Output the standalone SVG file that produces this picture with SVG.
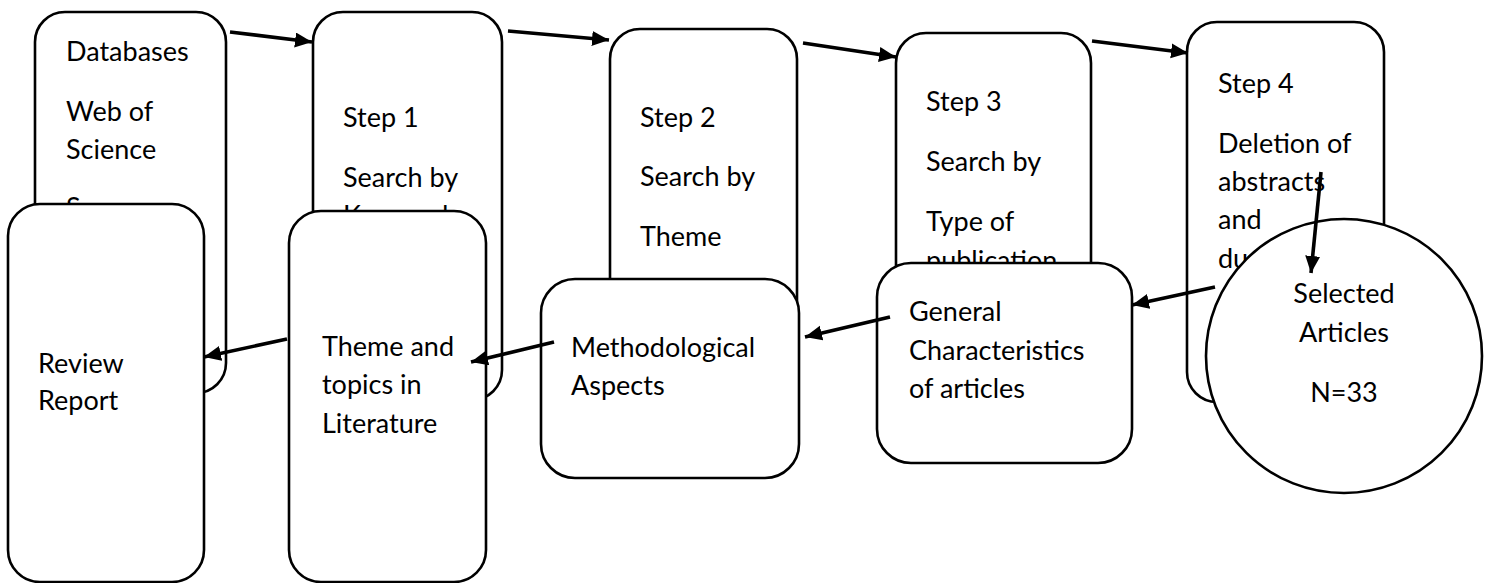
<svg xmlns="http://www.w3.org/2000/svg" width="1490" height="583" viewBox="0 0 1490 583">
<style>
.box{fill:#fff;stroke:#000;stroke-width:2.6}
.t{font-family:Lato,"Liberation Sans",sans-serif;font-size:27px;fill:#000}
.c{text-anchor:middle}
.arr{stroke:#000;stroke-width:3.6;fill:none;marker-end:url(#ah)}
</style>
<defs>
<marker id="ah" markerUnits="userSpaceOnUse" markerWidth="18" markerHeight="16" refX="17" refY="7.5" orient="auto">
<path d="M0,0 L17,7.5 L0,15 z" fill="#000"/>
</marker>
</defs>
<rect width="1490" height="583" fill="#fff"/>
<g id="databases">
<rect class="box" x="35" y="12" width="191" height="381" rx="30"/>
<text class="t" x="66" y="61">Databases</text>
<text class="t" x="66" y="121">Web of</text>
<text class="t" x="66" y="159">Science</text>
<text class="t" x="66" y="217">Scopus</text>
</g>
<g id="step1">
<rect class="box" x="313" y="12" width="189" height="388" rx="30"/>
<text class="t" x="343" y="127">Step 1</text>
<text class="t" x="343" y="187">Search by</text>
<text class="t" x="343" y="225">Keywords</text>
</g>
<g id="step2">
<rect class="box" x="610" y="29" width="187" height="380" rx="30"/>
<text class="t" x="640" y="127">Step 2</text>
<text class="t" x="640" y="186">Search by</text>
<text class="t" x="640" y="246">Theme</text>
</g>
<g id="step3">
<rect class="box" x="896" y="33" width="195" height="380" rx="30"/>
<text class="t" x="926" y="111">Step 3</text>
<text class="t" x="926" y="171">Search by</text>
<text class="t" x="926" y="231">Type of</text>
<text class="t" x="926" y="270">publication</text>
</g>
<g id="step4">
<rect class="box" x="1187" y="22" width="197" height="380" rx="30"/>
<text class="t" x="1218" y="93">Step 4</text>
<text class="t" x="1218" y="153">Deletion of</text>
<text class="t" x="1218" y="191">abstracts</text>
<text class="t" x="1218" y="229">and</text>
<text class="t" x="1218" y="268">duplicates</text>
</g>
<g id="review">
<rect class="box" x="8" y="204" width="196" height="378" rx="32"/>
<text class="t" x="38" y="373">Review</text>
<text class="t" x="38" y="410">Report</text>
</g>
<g id="theme">
<rect class="box" x="289" y="211" width="197" height="371" rx="32"/>
<text class="t" x="322" y="356">Theme and</text>
<text class="t" x="322" y="394">topics in</text>
<text class="t" x="322" y="433">Literature</text>
</g>
<g id="methodological">
<rect class="box" x="541" y="279" width="258" height="199" rx="34"/>
<text class="t" x="571" y="357">Methodological</text>
<text class="t" x="571" y="395">Aspects</text>
</g>
<g id="general">
<rect class="box" x="877" y="263" width="255" height="200" rx="34"/>
<text class="t" x="909" y="321">General</text>
<text class="t" x="909" y="360">Characteristics</text>
<text class="t" x="909" y="398">of articles</text>
</g>
<g id="selected">
<ellipse class="box" cx="1344" cy="356" rx="138" ry="137"/>
<text class="t c" x="1344" y="303">Selected</text>
<text class="t c" x="1344" y="342">Articles</text>
<text class="t c" x="1344" y="402">N=33</text>
</g>
<g id="connectors">
<line class="arr" x1="230" y1="32" x2="312" y2="42"/>
<line class="arr" x1="508" y1="31" x2="609" y2="40"/>
<line class="arr" x1="803" y1="43" x2="896" y2="57"/>
<line class="arr" x1="1092" y1="41" x2="1188" y2="53"/>
<line class="arr" x1="1321" y1="172" x2="1311" y2="273"/>
<line class="arr" x1="1215" y1="287" x2="1132" y2="305"/>
<line class="arr" x1="890" y1="317" x2="805" y2="337"/>
<line class="arr" x1="554" y1="342" x2="471" y2="362"/>
<line class="arr" x1="287" y1="339" x2="204" y2="357"/>
</g>
</svg>
